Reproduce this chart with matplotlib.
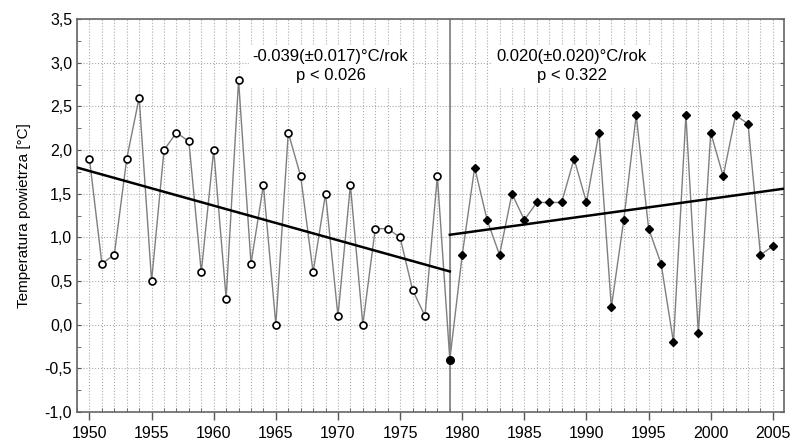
import matplotlib.pyplot as plt
from matplotlib.ticker import MultipleLocator, FuncFormatter

plt.rcParams['font.family'] = ['Liberation Sans', 'DejaVu Sans']

years1 = list(range(1950, 1979))
temp1 = [1.9, 0.7, 0.8, 1.9, 2.6, 0.5, 2.0, 2.2, 2.1, 0.6,
         2.0, 0.3, 2.8, 0.7, 1.6, 0.0, 2.2, 1.7, 0.6, 1.5,
         0.1, 1.6, 0.0, 1.1, 1.1, 1.0, 0.4, 0.1, 1.7]

years2 = list(range(1980, 2006))
temp2 = [0.8, 1.8, 1.2, 0.8, 1.5, 1.2, 1.4, 1.4, 1.4, 1.9,
         1.4, 2.2, 0.2, 1.2, 2.4, 1.1, 0.7, -0.2, 2.4, -0.1,
         2.2, 1.7, 2.4, 2.3, 0.8, 0.9]

year_break = 1979
temp_break = -0.4

# trend lines
trend1_x = [1949, 1979]
trend1_y = [1.80, 0.61]
trend2_x = [1979, 2006]
trend2_y = [1.03, 1.56]

label1 = "-0.039(\u00b10.017)\u00b0C/rok\np < 0.026"
label2 = "0.020(\u00b10.020)\u00b0C/rok\np < 0.322"

fig = plt.figure(figsize=(7.9, 4.44), dpi=100)
ax = fig.add_axes([0.0975, 0.072, 0.895, 0.885])

all_years = years1 + [year_break] + years2
all_temp = temp1 + [temp_break] + temp2
ax.plot(all_years, all_temp, color='#7f7f7f', linewidth=1, zorder=3)
ax.plot(years1, temp1, linestyle='none', marker='o', markersize=5,
        markerfacecolor='white', markeredgecolor='black', markeredgewidth=1.2, zorder=4)
ax.plot(years2, temp2, linestyle='none', marker='D', markersize=4.5,
        color='black', zorder=4)
ax.plot([year_break], [temp_break], linestyle='none', marker='o', markersize=5.5,
        color='black', zorder=4)

ax.plot(trend1_x, trend1_y, color='black', linewidth=1.8, zorder=5)
ax.plot(trend2_x, trend2_y, color='black', linewidth=1.8, zorder=5)

ax.axvline(year_break, color='#7f7f7f', linewidth=1.2, zorder=2)

ax.set_xlim(1949, 2005.9)
ax.set_ylim(-1.0, 3.5)
ax.xaxis.set_major_locator(MultipleLocator(5))
ax.xaxis.set_minor_locator(MultipleLocator(1))
ax.yaxis.set_major_locator(MultipleLocator(0.5))
ax.yaxis.set_minor_locator(MultipleLocator(0.25))
ax.yaxis.set_major_formatter(FuncFormatter(lambda v, p: ("%.1f" % v).replace('.', ',')))

ax.grid(True, which='both', axis='x', color='#aaaaaa', linestyle=':', linewidth=0.8)
ax.grid(True, which='major', axis='y', color='#aaaaaa', linestyle=':', linewidth=0.8)
ax.set_axisbelow(True)

ax.tick_params(axis='x', which='major', direction='out', length=6, width=1,
               color='#555555', labelsize=11.5, pad=4)
ax.tick_params(axis='x', which='minor', direction='in', length=3, color='#555555')
ax.tick_params(axis='y', which='both', direction='in', length=3, color='#555555',
               right=True, labelsize=11.5)

for s in ax.spines.values():
    s.set_color('#666666')
    s.set_linewidth(1.2)

ax.set_ylabel("Temperatura powietrza [\u00b0C]", fontsize=11, labelpad=10)

box = dict(facecolor='white', edgecolor='none', pad=3)
ax.text(1969.4, 2.96, label1, ha='center', va='center', fontsize=12,
        linespacing=1.35, bbox=box, zorder=6)
ax.text(1988.8, 2.96, label2, ha='center', va='center', fontsize=12,
        linespacing=1.35, bbox=box, zorder=6)

fig.savefig("out.png", dpi=100)
